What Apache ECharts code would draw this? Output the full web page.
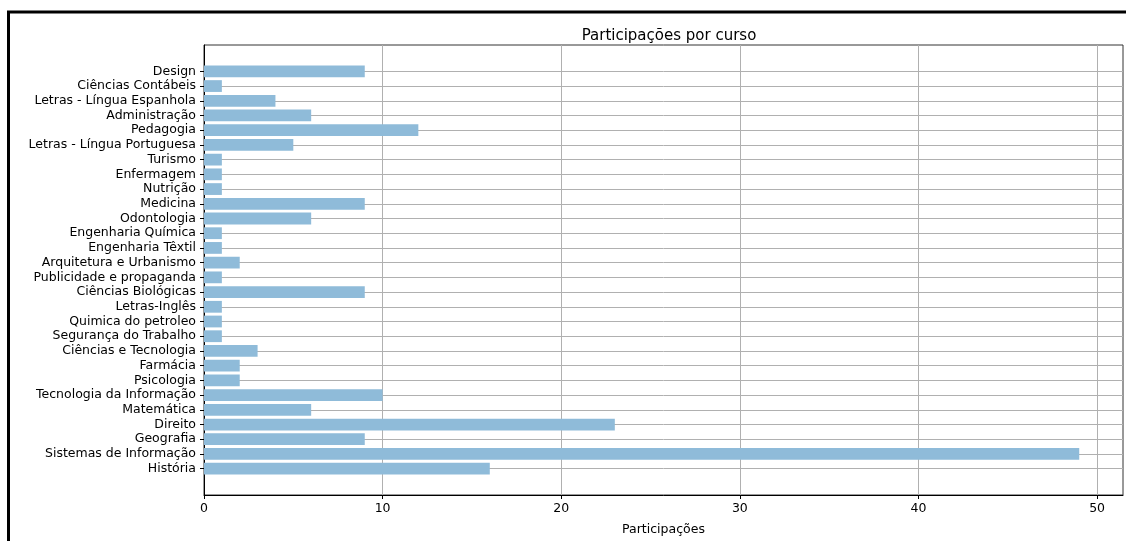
<!DOCTYPE html>
<html>
<head>
<meta charset="utf-8">
<script src="https://cdn.jsdelivr.net/npm/echarts@6/dist/echarts.min.js"></script>
<style>
html,body{margin:0;padding:0;background:#fff;}
#chart{width:1126px;height:541px;}
</style>
</head>
<body>
<div id="chart"></div>
<script>
const categories = [
  "Design","Ciências Contábeis","Letras - Língua Espanhola","Administração","Pedagogia",
  "Letras - Língua Portuguesa","Turismo","Enfermagem","Nutrição","Medicina","Odontologia",
  "Engenharia Química","Engenharia Têxtil","Arquitetura e Urbanismo","Publicidade e propaganda",
  "Ciências Biológicas","Letras-Inglês","Quimica do petroleo","Segurança do Trabalho",
  "Ciências e Tecnologia","Farmácia","Psicologia","Tecnologia da Informação","Matemática",
  "Direito","Geografia","Sistemas de Informação","História"
];
const participacoes = [9,1,4,6,12,5,1,1,1,9,6,1,1,2,1,9,1,1,1,3,2,2,10,6,23,9,49,16];
const xTicks = [0,10,20,30,40,50];
const titleText = "Participações por curso";
const xLabel = "Participações";

const n = categories.length;
const barHeight = 0.8;
const yPad = (n - 1 + barHeight) * 0.05;
const yMin = -barHeight / 2 - yPad;
const yMax = n - 1 + barHeight / 2 + yPad;
const xMax = Math.max(...participacoes) * 1.05;

const chart = echarts.init(document.getElementById('chart'), null, {renderer: 'canvas'});
const font = 'DejaVu Sans';
const data = participacoes.map((v, i) => [v, i]);
const idx = categories.map((c, i) => i);

chart.setOption({
  animation: false,
  backgroundColor: '#fff',
  textStyle: {fontFamily: font},
  title: {
    text: titleText,
    left: 664, top: 24, textAlign: 'center',
    textStyle: {fontFamily: font, fontSize: 15, fontWeight: 'normal', color: '#000'}
  },
  graphic: [{
    type: 'rect', silent: true, z: 100,
    shape: {x: 8.5, y: 12, width: 1300, height: 700},
    style: {fill: 'none', stroke: '#000', lineWidth: 3}
  }],
  grid: {left: 204, top: 45, right: 3, bottom: 43, show: true, borderColor: '#333', borderWidth: 1},
  xAxis: {
    type: 'value', min: 0, max: xMax,
    name: xLabel, nameLocation: 'middle', nameGap: 28,
    nameTextStyle: {fontFamily: font, fontSize: 12.5, color: '#000'},
    axisLine: {show: true, onZero: false, lineStyle: {color: '#000', width: 1}},
    axisTick: {show: true, inside: false, length: 4, customValues: xTicks, lineStyle: {color: '#000'}},
    axisLabel: {customValues: xTicks, fontFamily: font, fontSize: 12.5, color: '#000', margin: 7},
    splitLine: {show: true, lineStyle: {color: '#b0b0b0', width: 1}}
  },
  yAxis: {
    type: 'value', min: yMin, max: yMax, inverse: true,
    axisLine: {show: true, onZero: false, lineStyle: {color: '#000', width: 1}},
    axisTick: {show: true, length: 4, customValues: idx, lineStyle: {color: '#000'}},
    axisLabel: {
      customValues: idx, fontFamily: font, fontSize: 12.5, color: '#000', margin: 8,
      formatter: v => categories[Math.round(v)]
    },
    splitLine: {show: true, lineStyle: {color: '#b0b0b0', width: 1}}
  },
  series: [{
    type: 'custom',
    data: data,
    encode: {x: 0, y: 1},
    z: 5,
    renderItem: function (params, api) {
      const v = api.value(0), c = api.value(1);
      const p0 = api.coord([0, c - barHeight / 2]);
      const p1 = api.coord([v, c + barHeight / 2]);
      return {
        type: 'rect',
        shape: {x: p0[0], y: Math.min(p0[1], p1[1]), width: p1[0] - p0[0], height: Math.abs(p1[1] - p0[1])},
        style: {fill: '#8fbbd9'}
      };
    }
  }]
});
</script>
</body>
</html>
